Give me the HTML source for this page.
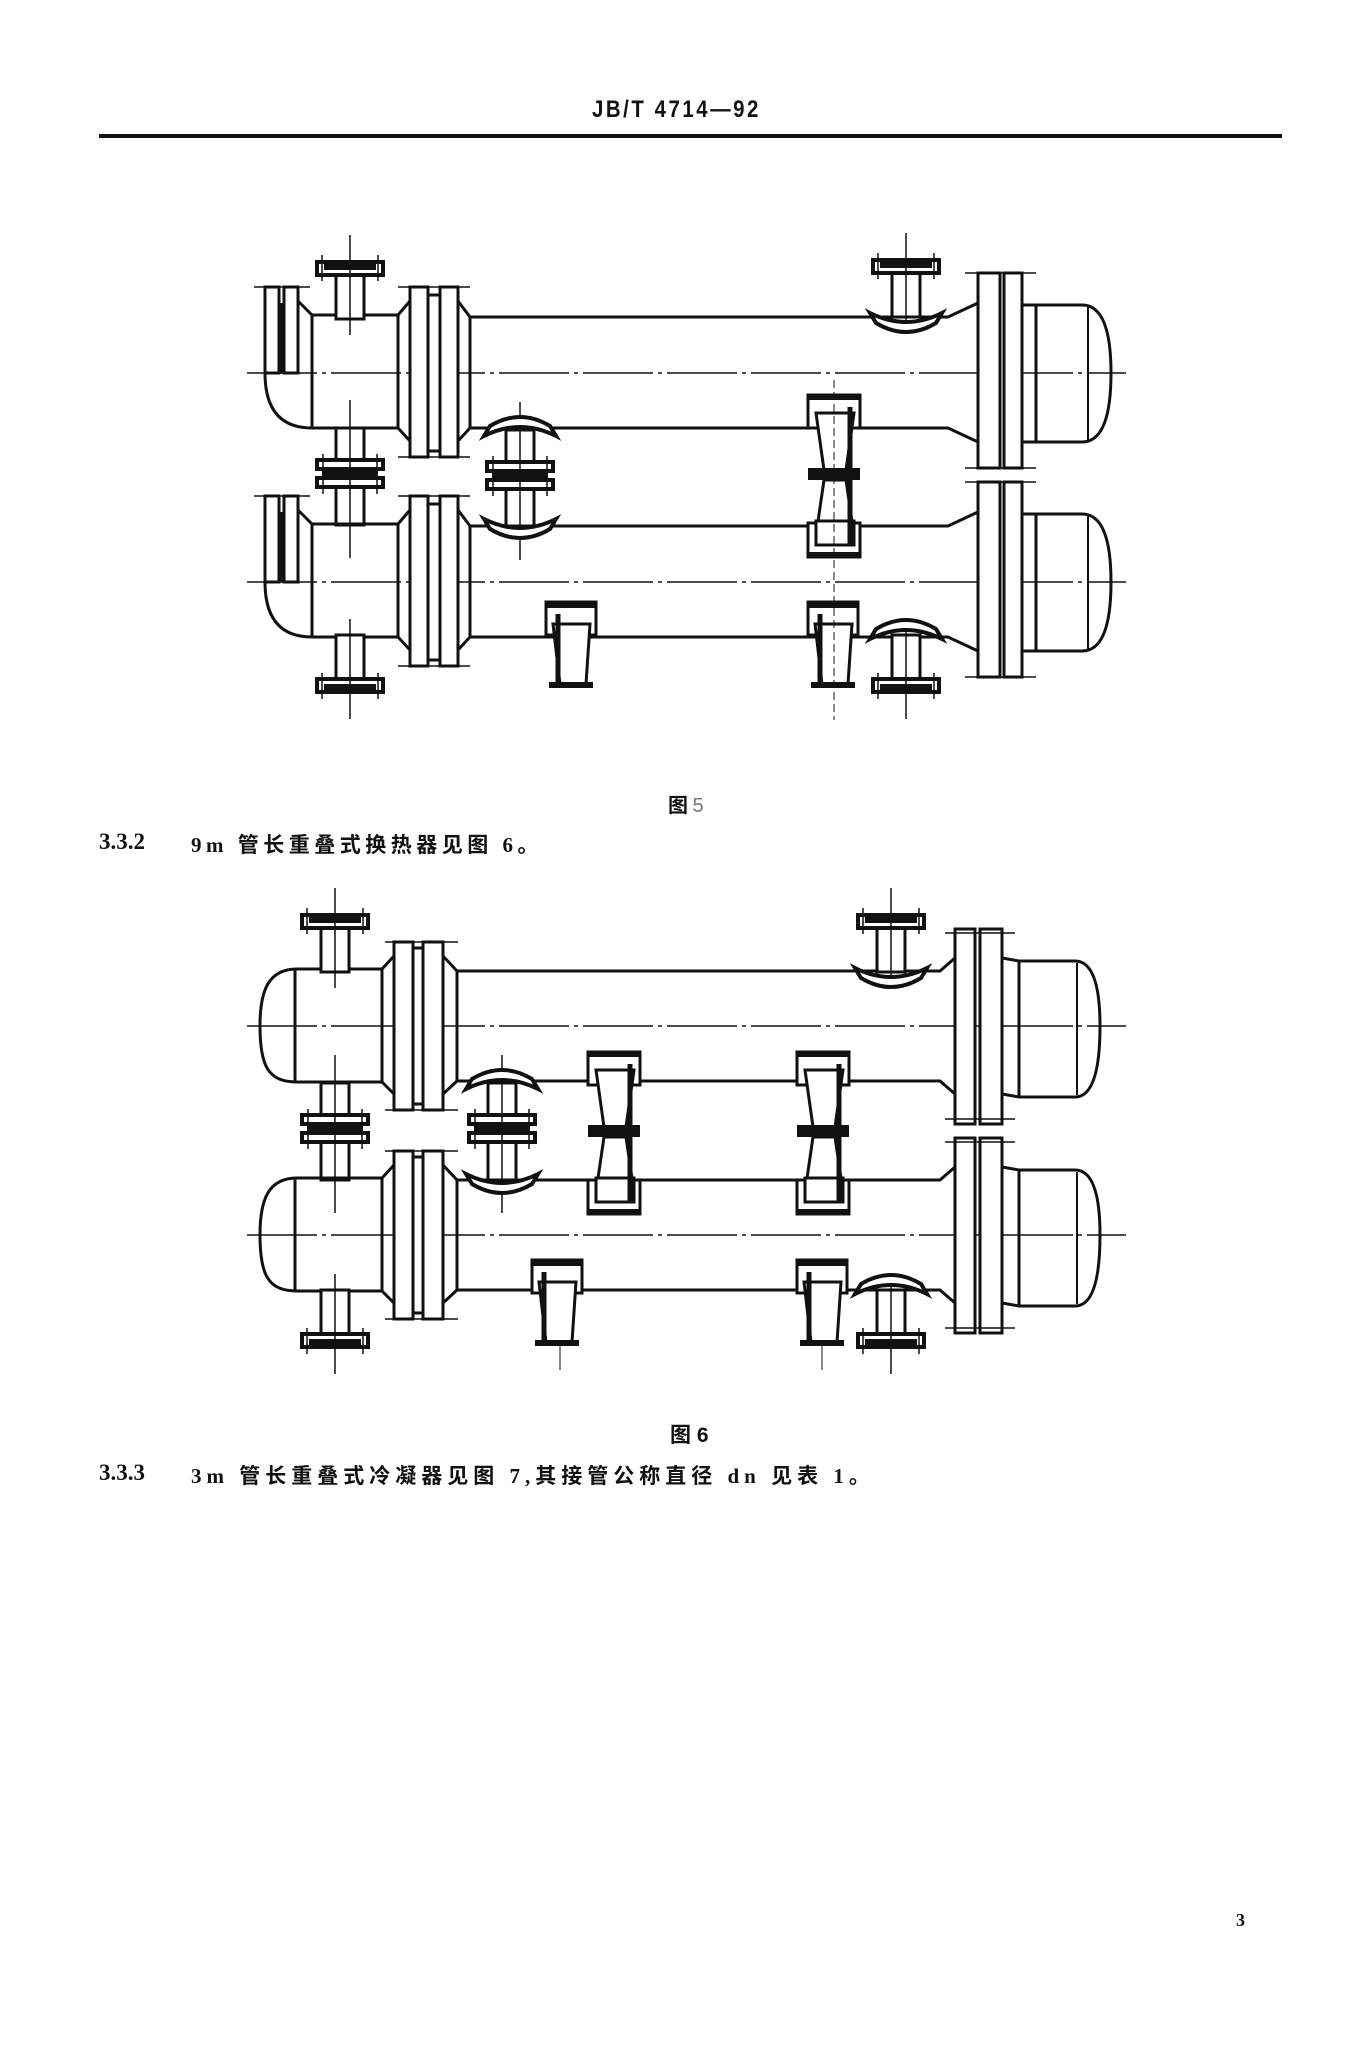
<!DOCTYPE html>
<html><head><meta charset="utf-8"><style>
html,body{margin:0;padding:0;background:#fff;}
body{width:1347px;height:2048px;position:relative;overflow:hidden;}
.t{position:absolute;font-family:"Liberation Serif","Noto Serif CJK SC","Noto Sans CJK SC",serif;font-weight:bold;color:#111;white-space:nowrap;}
svg{position:absolute;left:0;top:0;}
</style></head><body>
<div class="t" style="left:592px;top:96px;font-family:'Liberation Sans',sans-serif;font-size:24px;letter-spacing:3px;transform:scaleX(0.85);transform-origin:left;">JB/T 4714—92</div>
<div style="position:absolute;left:99px;top:134px;width:1183px;height:4px;background:#111;"></div>

<div class="t" style="left:668px;top:789px;font-size:20px;font-family:'Noto Sans CJK SC',sans-serif;">图 <span style="font-weight:normal;color:#777;font-family:'Liberation Sans',sans-serif">5</span></div>
<div class="t" style="left:99px;top:829px;font-size:23px;font-family:'Liberation Serif',serif;">3.3.2</div>
<div class="t" style="left:191px;top:829px;font-size:21px;letter-spacing:4.5px;font-family:'Liberation Serif','Noto Sans CJK SC',sans-serif;">9m 管长重叠式换热器见图 6。</div>

<div class="t" style="left:670px;top:1419px;font-size:21px;font-family:'Liberation Sans','Noto Sans CJK SC',sans-serif;">图 6</div>
<div class="t" style="left:99px;top:1460px;font-size:23px;font-family:'Liberation Serif',serif;">3.3.3</div>
<div class="t" style="left:191px;top:1460px;font-size:21px;letter-spacing:5px;font-family:'Liberation Serif','Noto Sans CJK SC',sans-serif;">3m 管长重叠式冷凝器见图 7,其接管公称直径 dn 见表 1。</div>
<div class="t" style="left:1236px;top:1910px;font-size:18px;">3</div>

<svg width="1347" height="2048" viewBox="0 0 1347 2048" fill="none" stroke="#111" stroke-width="3">
<defs>
 <g id="nozU">
  <rect x="-14" y="-42" width="28" height="44" fill="#fff"/>
  <rect x="-33" y="-55" width="66" height="13" fill="#fff" stroke-width="4"/>
  <rect x="-26" y="-54" width="52" height="7" fill="#111" stroke="none"/>
  <line x1="-28" y1="-62" x2="-28" y2="-36" stroke-width="1.5"/>
  <line x1="28" y1="-62" x2="28" y2="-36" stroke-width="1.5"/>
  <line x1="0" y1="-82" x2="0" y2="18" stroke-width="1.5"/>
 </g>
 <g id="pad">
  <path d="M-36,-4 Q0,14 36,-4 L30,6 Q0,24 -30,6 Z" fill="#fff" stroke-width="4"/>
 </g>
 <g id="conn">
  <rect x="-14" y="0" width="28" height="97" fill="#fff"/>
  <rect x="-33" y="32" width="66" height="9" fill="#fff" stroke-width="4"/>
  <rect x="-28" y="40" width="56" height="11" fill="#111" stroke="none"/>
  <rect x="-33" y="50" width="66" height="9" fill="#fff" stroke-width="4"/>
  <line x1="-27" y1="26" x2="-27" y2="66" stroke-width="1.5"/>
  <line x1="27" y1="26" x2="27" y2="66" stroke-width="1.5"/>
  <line x1="0" y1="-28" x2="0" y2="130" stroke-width="1.5"/>
 </g>
 <g id="saddle">
  <rect x="0" y="0" width="52" height="33" fill="#fff"/>
  <rect x="0" y="0" width="52" height="5" fill="#111" stroke="none"/>
  <polygon points="8,18 46,18 38,75 16,75" fill="#fff"/>
  <rect x="0" y="73" width="52" height="12" fill="#111" stroke="none"/>
  <polygon points="16,85 38,85 46,140 8,140" fill="#fff"/>
  <rect x="0" y="128" width="52" height="34" fill="#fff"/>
  <polygon points="8,126 46,126 46,150 8,150" fill="#fff"/>
  <rect x="0" y="157" width="52" height="5" fill="#111" stroke="none"/>
  <line x1="42" y1="12" x2="42" y2="150" stroke-width="5"/>
 </g>
 <g id="support">
  <rect x="0" y="0" width="50" height="33" fill="#fff"/>
  <rect x="0" y="0" width="50" height="6" fill="#111" stroke="none"/>
  <polygon points="7,22 44,22 40,82 14,82" fill="#fff"/>
  <rect x="3" y="80" width="44" height="6" fill="#111" stroke="none"/>
  <line x1="12" y1="12" x2="12" y2="80" stroke-width="5"/>
 </g>
 <g id="u5">
  <line x1="247" y1="0" x2="1126" y2="0" stroke-width="1.5" stroke-dasharray="70 5 4 5"/>
  <path d="M265,-4 V0 Q265,55 312,55 H398"/>
  <rect x="265" y="-86" width="14" height="86" fill="#fff"/>
  <rect x="284" y="-86" width="14" height="86" fill="#fff"/>
  <rect x="279" y="-70" width="5" height="70" fill="#111" stroke="none"/>
  <line x1="254" y1="-86" x2="310" y2="-86" stroke-width="1.5"/>
  <path d="M298,-72 L312,-58 H398 M312,-58 V55"/>
  <path d="M398,-58 L410,-72 M398,55 L410,68" />
  <rect x="428" y="-78" width="12" height="156" fill="#fff"/>
  <rect x="410" y="-86" width="18" height="170" fill="#fff"/>
  <rect x="440" y="-86" width="18" height="170" fill="#fff"/>
  <line x1="398" y1="-86" x2="470" y2="-86" stroke-width="1.5"/>
  <line x1="398" y1="84" x2="470" y2="84" stroke-width="1.5"/>
  <path d="M458,-72 L470,-56 H948 L978,-70 M458,68 L470,55 H948 L978,69"/>
  <line x1="398" y1="-58" x2="398" y2="55"/>
  <line x1="470" y1="-56" x2="470" y2="55"/>
  <rect x="978" y="-100" width="22" height="195" fill="#fff"/>
  <rect x="1004" y="-100" width="18" height="195" fill="#fff"/>
  <line x1="965" y1="-100" x2="1036" y2="-100" stroke-width="1.5"/>
  <line x1="965" y1="95" x2="1036" y2="95" stroke-width="1.5"/>
  <path d="M1022,-68 L1036,-68 H1082 Q1111,-68 1111,0 Q1111,69 1082,69 H1036 L1022,69"/>
  <line x1="1036" y1="-68" x2="1036" y2="69"/>
  <line x1="1088" y1="-66" x2="1088" y2="67" stroke-width="2"/>
 </g>
 <g id="u6">
  <line x1="247" y1="0" x2="1126" y2="0" stroke-width="1.5" stroke-dasharray="70 5 4 5"/>
  <path d="M297,-57 C268,-57 260,-35 260,0 C260,40 268,56 297,56 H382 M297,-57 H382"/>
  <line x1="295" y1="-57" x2="295" y2="56"/>
  <path d="M382,-57 L394,-70 M382,56 L394,68"/>
  <line x1="382" y1="-57" x2="382" y2="56"/>
  <rect x="413" y="-78" width="10" height="156" fill="#fff"/>
  <rect x="394" y="-84" width="19" height="168" fill="#fff"/>
  <rect x="423" y="-84" width="20" height="168" fill="#fff"/>
  <line x1="385" y1="-84" x2="458" y2="-84" stroke-width="1.5"/>
  <line x1="385" y1="84" x2="458" y2="84" stroke-width="1.5"/>
  <path d="M443,-70 L457,-55 H940 L955,-68 M443,68 L457,55 H940 L955,68"/>
  <line x1="457" y1="-55" x2="457" y2="55"/>
  <rect x="955" y="-97" width="20" height="195" fill="#fff"/>
  <rect x="980" y="-97" width="22" height="195" fill="#fff"/>
  <line x1="945" y1="-93" x2="1015" y2="-93" stroke-width="1.5"/>
  <line x1="945" y1="93" x2="1015" y2="93" stroke-width="1.5"/>
  <path d="M1002,-68 L1019,-65 H1075 Q1100,-65 1100,0 Q1100,71 1075,71 H1019 L1002,68"/>
  <line x1="1019" y1="-65" x2="1019" y2="71"/>
  <line x1="1077" y1="-63" x2="1077" y2="69" stroke-width="2"/>
 </g>
</defs>

<use href="#conn" transform="translate(350,428)"/>
<use href="#conn" transform="translate(520,430)"/>
<use href="#u5" transform="translate(0,373)"/>
<use href="#u5" transform="translate(0,582)"/>
<use href="#pad" transform="translate(520,432) scale(1,-1)"/>
<use href="#pad" transform="translate(520,523)"/>
<use href="#nozU" transform="translate(350,317)"/>
<use href="#nozU" transform="translate(906,315)"/>
<use href="#pad" transform="translate(906,317)"/>
<use href="#nozU" transform="translate(350,637) scale(1,-1)"/>
<use href="#nozU" transform="translate(906,637) scale(1,-1)"/>
<use href="#pad" transform="translate(906,635) scale(1,-1)"/>
<use href="#saddle" transform="translate(808,395)"/>
<use href="#support" transform="translate(546,602)"/>
<use href="#support" transform="translate(808,602)"/>
<line x1="834" y1="380" x2="834" y2="720" stroke-width="1" stroke-dasharray="8 4"/>

<use href="#conn" transform="translate(335,1083)"/>
<use href="#conn" transform="translate(502,1083)"/>
<use href="#u6" transform="translate(0,1026)"/>
<use href="#u6" transform="translate(0,1235)"/>
<use href="#pad" transform="translate(502,1085) scale(1,-1)"/>
<use href="#pad" transform="translate(502,1178)"/>
<use href="#nozU" transform="translate(335,970)"/>
<use href="#nozU" transform="translate(891,970)"/>
<use href="#pad" transform="translate(891,972)"/>
<use href="#nozU" transform="translate(335,1292) scale(1,-1)"/>
<use href="#nozU" transform="translate(891,1292) scale(1,-1)"/>
<use href="#pad" transform="translate(891,1290) scale(1,-1)"/>
<use href="#saddle" transform="translate(588,1052)"/>
<use href="#saddle" transform="translate(797,1052)"/>
<use href="#support" transform="translate(532,1260)"/>
<use href="#support" transform="translate(797,1260)"/>
<line x1="560" y1="1340" x2="560" y2="1370" stroke-width="1"/>
<line x1="822" y1="1340" x2="822" y2="1370" stroke-width="1"/>
</svg>
</body></html>
